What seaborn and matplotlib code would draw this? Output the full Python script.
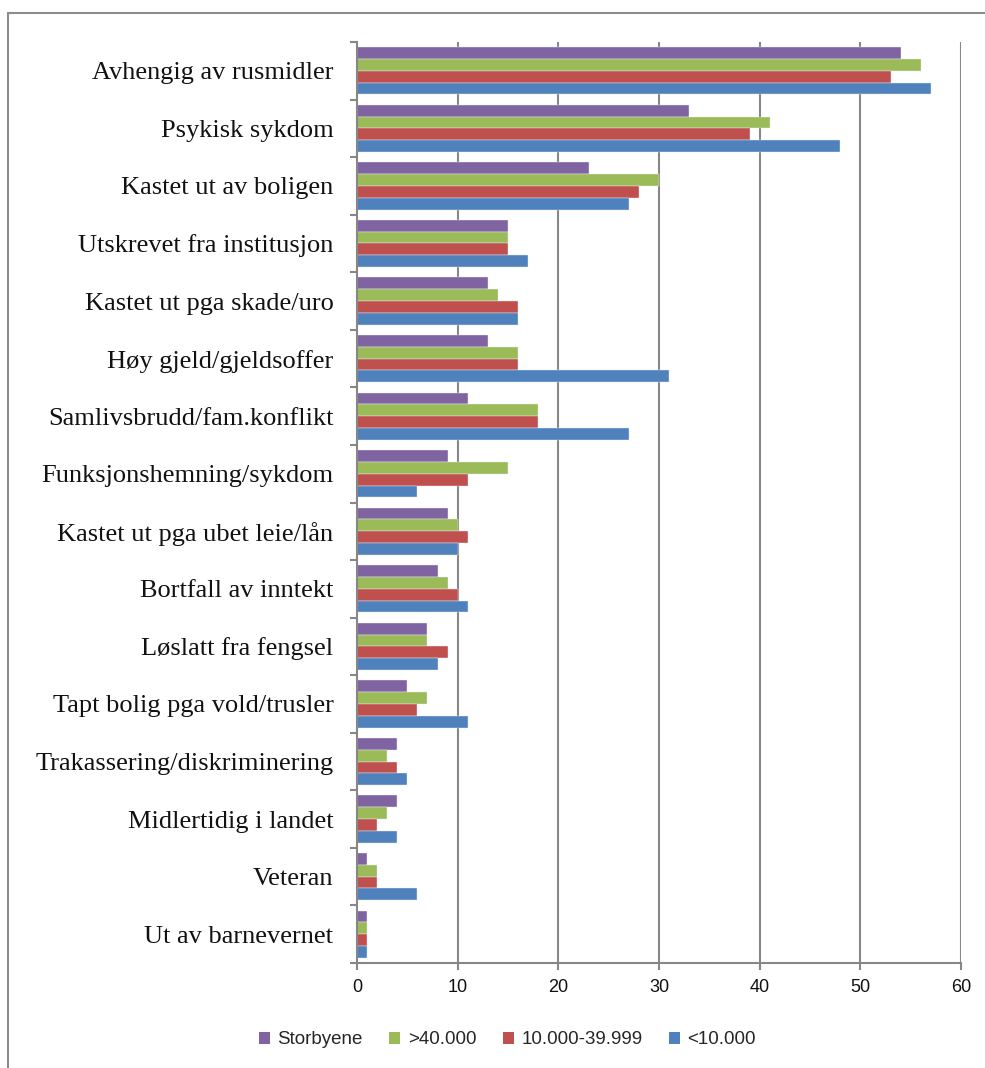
import matplotlib
matplotlib.use("Agg")
import matplotlib.pyplot as plt
import seaborn as sns
import pandas as pd
from matplotlib.lines import Line2D
from matplotlib.patches import Patch

categories = [
    "Avhengig av rusmidler", "Psykisk sykdom", "Kastet ut av boligen",
    "Utskrevet fra institusjon", "Kastet ut pga skade/uro", "Høy gjeld/gjeldsoffer",
    "Samlivsbrudd/fam.konflikt", "Funksjonshemning/sykdom", "Kastet ut pga ubet leie/lån",
    "Bortfall av inntekt", "Løslatt fra fengsel", "Tapt bolig pga vold/trusler",
    "Trakassering/diskriminering", "Midlertidig i landet", "Veteran", "Ut av barnevernet",
]
series_names = ["Storbyene", ">40.000", "10.000-39.999", "<10.000"]
storbyene = [54, 33, 23, 15, 13, 13, 11, 9, 9, 8, 7, 5, 4, 4, 1, 1]
over40 = [56, 41, 30, 15, 14, 16, 18, 15, 10, 9, 7, 7, 3, 3, 2, 1]
mid = [53, 39, 28, 15, 16, 16, 18, 11, 11, 10, 9, 6, 4, 2, 2, 1]
under10 = [57, 48, 27, 17, 16, 31, 27, 6, 10, 11, 8, 11, 5, 4, 6, 1]
colors = ["#8064A2", "#9BBB59", "#C0504D", "#4F81BD"]
xticks = [0, 10, 20, 30, 40, 50, 60]

rows = []
for name, vals in zip(series_names, [storbyene, over40, mid, under10]):
    for c, v in zip(categories, vals):
        rows.append({"Kategori": c, "Gruppe": name, "Verdi": v})
df = pd.DataFrame(rows)

sns.set_theme(style="white")
plt.rcParams["font.family"] = ["DejaVu Sans"]

fig = plt.figure(figsize=(9.85, 10.68), dpi=100)
ax = fig.add_axes([357/985, 1 - 963/1068, (961-357)/985, (963-42)/1068])

sns.barplot(data=df, y="Kategori", x="Verdi", hue="Gruppe", order=categories,
            hue_order=series_names, palette=colors, orient="h", width=0.82,
            ax=ax, edgecolor="#e8eef5", linewidth=0.3, legend=False, saturation=1)

grid_c = "#878787"
ax.set_xlim(0, 60)
ax.set_ylim(len(categories) - 0.5, -0.5)
ax.set_xticks(xticks)
ax.set_xticklabels([str(t) for t in xticks], fontsize=13, family=["Liberation Sans", "DejaVu Sans"],
                   color="#111111")
ax.set_xlabel("")
ax.set_ylabel("")
for t in xticks[1:]:
    ax.axvline(t, color=grid_c, lw=1.5, zorder=0)

ax.set_yticks(range(len(categories)))
ax.set_yticklabels(categories, fontsize=19, family=["Liberation Serif", "DejaVu Serif"], color="#111111")
ax.tick_params(axis="y", which="major", left=True, length=0, pad=17)
ax.set_yticks([i - 0.5 for i in range(len(categories) + 1)], minor=True)
ax.tick_params(axis="y", which="minor", left=True, length=5, width=1.5, color=grid_c, direction="out")
ax.tick_params(axis="x", which="major", bottom=True, length=5, width=1.5, color=grid_c, direction="out", pad=6.5)

for s in ["top", "right"]:
    ax.spines[s].set_visible(False)
for s in ["left", "bottom"]:
    ax.spines[s].set_color(grid_c)
    ax.spines[s].set_linewidth(1.5)

handles = [Patch(facecolor=c, edgecolor="none") for c in colors]
fig.legend(handles, series_names, loc="center", bbox_to_anchor=(0.515, 1 - 1040/1068),
           ncol=4, frameon=False, handlelength=0.6, handleheight=0.6, handletextpad=0.4,
           columnspacing=1.4, prop={"family": ["Liberation Sans", "DejaVu Sans"], "size": 13.5})

# figure border (left and top only, as cropped in reference)
fig.add_artist(Line2D([8/985, 8/985], [0, 1 - 13/1068], transform=fig.transFigure,
                      color="#8c8c8c", lw=1.5))
fig.add_artist(Line2D([8/985, 1], [1 - 13/1068, 1 - 13/1068], transform=fig.transFigure,
                      color="#8c8c8c", lw=1.5))

fig.savefig("out.png", dpi=100)
